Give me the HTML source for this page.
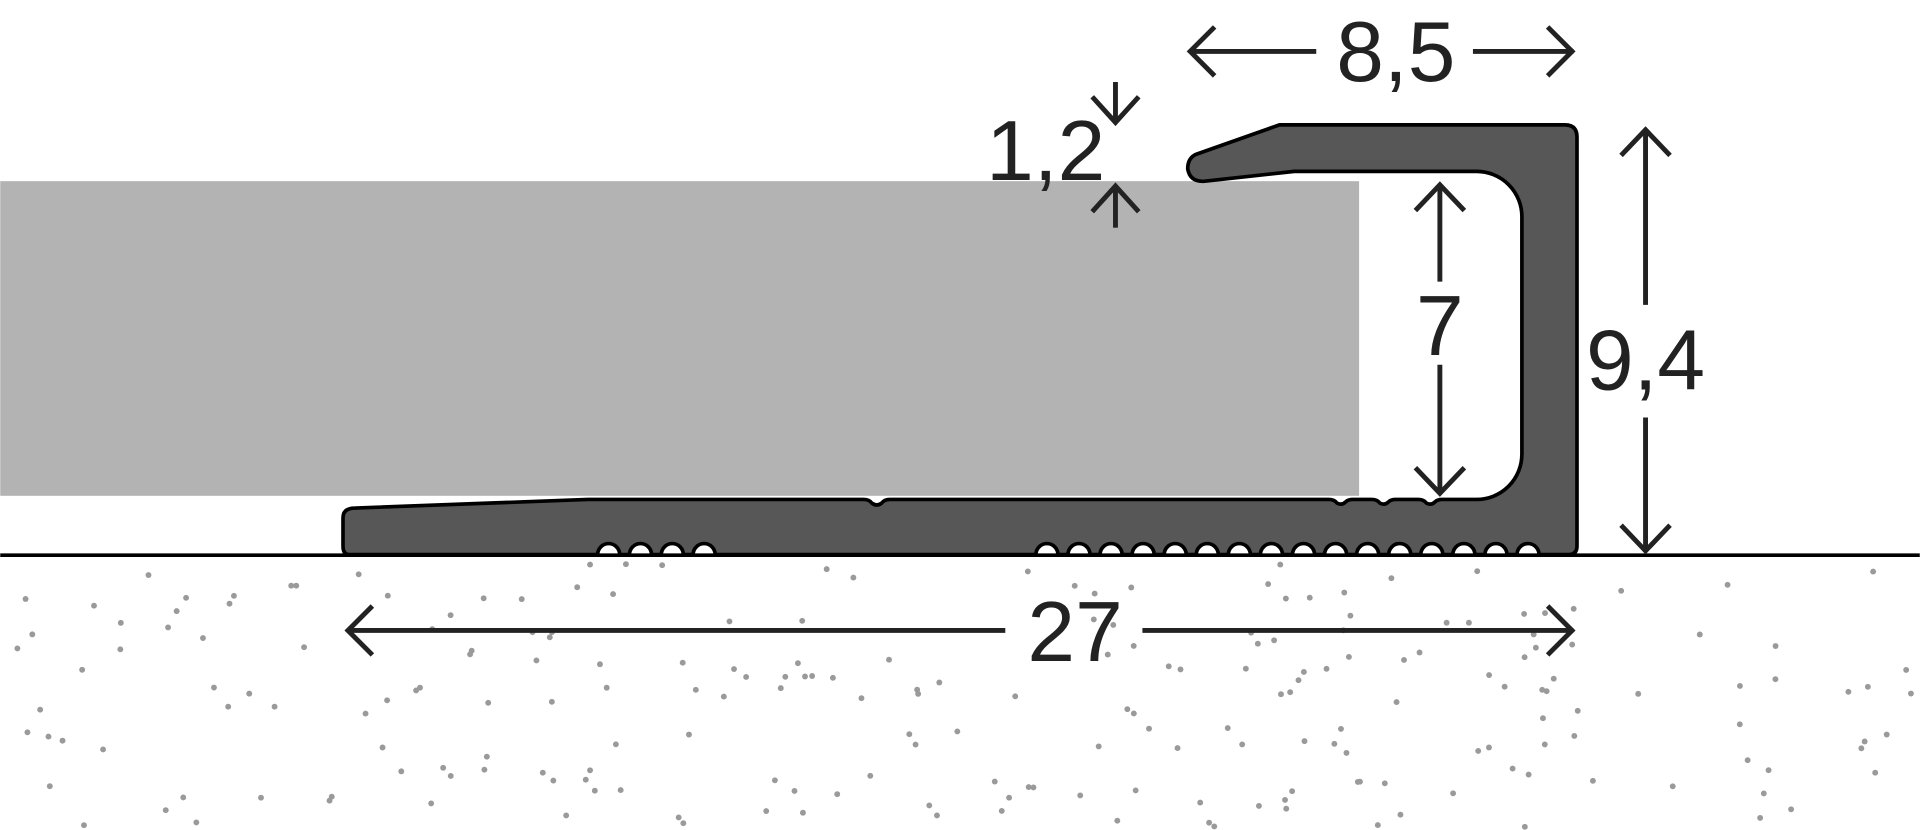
<!DOCTYPE html>
<html><head><meta charset="utf-8"><style>
html,body{margin:0;padding:0;background:#fff;width:1920px;height:830px;overflow:hidden}
svg{display:block}
text{font-family:"Liberation Sans Narrow","Liberation Sans",sans-serif;font-size:70px;fill:#222}
</style></head><body>
<svg id="s" width="1920" height="830" viewBox="0 0 1568 678" xmlns="http://www.w3.org/2000/svg">
<g id="dots" fill="#9a9a9a"></g>
<rect x="0" y="148" width="1110" height="257" fill="#b3b3b3"/>
<line x1="0" y1="453.5" x2="1568" y2="453.5" stroke="#000" stroke-width="3"/>
<path id="prof" fill="#575757" stroke="#000" stroke-width="3" stroke-linejoin="round" d=""/>
<g stroke="#222" stroke-width="4" fill="none">
<line x1="972" y1="42" x2="1075" y2="42"/><polyline points="992,22 972,42 992,62"/>
<line x1="1203" y1="42" x2="1285" y2="42"/><polyline points="1264,22 1284,42 1264,62"/>
<line x1="911" y1="67" x2="911" y2="100"/><polyline points="892,79 911,100 930,79"/>
<line x1="911" y1="186" x2="911" y2="152"/><polyline points="892,173 911,152 930,173"/>
<line x1="1176" y1="230" x2="1176" y2="152"/><polyline points="1156,172 1176,151 1196,172"/>
<line x1="1176" y1="298" x2="1176" y2="402"/><polyline points="1156,382 1176,403 1196,382"/>
<line x1="1344" y1="249" x2="1344" y2="106"/><polyline points="1324,127 1344,106 1364,127"/>
<line x1="1344" y1="341" x2="1344" y2="451"/><polyline points="1324,429 1344,450 1364,429"/>
<line x1="285" y1="515" x2="821" y2="515"/><polyline points="304,495 284,515 304,535"/>
<line x1="933" y1="515" x2="1285" y2="515"/><polyline points="1264,495 1284,515 1264,535"/>
</g>
<text x="1140" y="66" text-anchor="middle">8,5</text>
<text x="854" y="147" text-anchor="middle">1,2</text>
<text x="1176" y="290" text-anchor="middle">7</text>
<text x="1344" y="318" text-anchor="middle">9,4</text>
<text x="878" y="540" text-anchor="middle">27</text>
</svg>
<script>
(function(){
var d="M 290,453 L 285,453 Q 280,453 280,446 L 280,423 Q 280,415 290,415 L 480,408 L 705,408 Q 710,408 712,411 Q 716,414 720,411 Q 722,408 727,408 L 1085,408 Q 1090,408 1092,411 Q 1096,413 1099,410 Q 1101,408 1105,408 L 1120,408 Q 1125,408 1127,411 Q 1131,413 1134,410 Q 1136,408 1140,408 L 1158,408 Q 1163,408 1165,411 Q 1169,413 1172,410 Q 1174,408 1178,408 L 1206,408 A 37,37 0 0 0 1243,371 L 1243,177 A 37,37 0 0 0 1206,140 L 1057,140 L 984,148 Q 972,149 970,138 Q 970,129 977,126 L 1045,102 L 1278,102 Q 1288,102 1288,112 L 1288,446 Q 1288,453 1281,453 ";
var cs=[];for(var i=15;i>=0;i--)cs.push(855+i*26.2);
[575,549,523,497].forEach(function(c){cs.push(c)});
cs.forEach(function(c){d+="L "+(c+9)+",453 A 9,9 0 0 0 "+(c-9)+",453 ";});
d+="Z";
document.getElementById('prof').setAttribute('d',d);
var g=document.getElementById('dots'),s=12345,h="";
function r(){s=(s*1103515245+12345)%2147483648;return s/2147483648;}
for(var k=0;k<220;k++){var x=r()*1568,y=460+r()*216;h+='<circle cx="'+x.toFixed(1)+'" cy="'+y.toFixed(1)+'" r="2.4"/>';}
g.innerHTML=h;
})();
</script>
</body></html>
